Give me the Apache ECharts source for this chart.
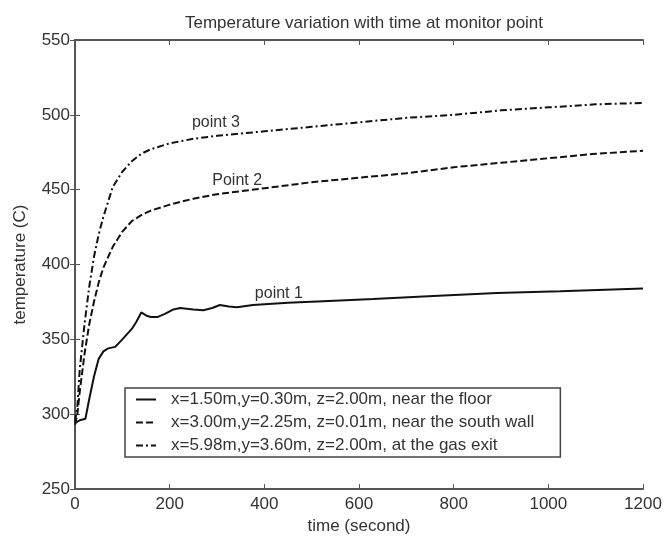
<!DOCTYPE html>
<html>
<head>
<meta charset="utf-8">
<script src="https://cdn.jsdelivr.net/npm/echarts@6/dist/echarts.min.js"></script>
<style>
  html, body { margin: 0; padding: 0; background: #fff; }
  #chart { width: 665px; height: 540px; }
</style>
</head>
<body>
<div id="chart"></div>
<script>
// point 1 - near the floor (solid)
const time1 = [0, 10, 22, 30, 40, 50, 60, 70, 85, 100, 120, 130, 140, 150, 160, 175, 190, 208, 222, 250, 271, 290, 306, 325, 342, 376, 450, 524, 630, 757, 891, 1025, 1200]
const temp1 = [294, 296, 297, 310, 325, 337, 342, 344, 345, 350, 357, 362, 368, 366, 365, 365, 367, 370, 371, 370, 369.5, 371, 373, 372, 371.5, 373, 374.5, 375.5, 377, 379, 381, 382.2, 384]
// point 2 - near the south wall (dashed)
const time2 = [0, 5, 10, 20, 30, 40, 50, 60, 80, 100, 120, 140, 160, 200, 250, 300, 400, 500, 600, 700, 800, 900, 1000, 1100, 1200]
const temp2 = [293, 300, 315, 340, 360, 375, 388, 398, 412, 422, 429, 433, 436, 440, 444, 447, 451, 455, 458, 461, 465, 468, 471, 474, 476]
// point 3 - at the gas exit (dash-dot)
const time3 = [0, 5, 10, 20, 30, 40, 50, 60, 80, 100, 120, 140, 160, 200, 250, 300, 400, 500, 600, 700, 800, 900, 1000, 1100, 1200]
const temp3 = [295, 305, 330, 360, 385, 405, 420, 432, 452, 462, 469, 474, 477, 481, 484, 486, 489, 492, 495, 498, 500, 503, 505, 507, 508]

const legendNames = [
  'x=1.50m,y=0.30m, z=2.00m, near the floor',
  'x=3.00m,y=2.25m, z=0.01m, near the south wall',
  'x=5.98m,y=3.60m, z=2.00m, at the gas exit'
]
const curveLabels = ['point 1', 'Point 2', 'point 3']
const labelCoords = [[380, 380.5], [290, 456], [247, 495]]
const dashTypes = ['solid', [7, 3], [7, 3, 2, 3]]

const font = 'Liberation Sans, Arial, sans-serif'
const textColor = '#333'
const axisColor = '#555'

const zip = (xs, ys) => xs.map((x, i) => [x, ys[i]])
const seriesData = [zip(time1, temp1), zip(time2, temp2), zip(time3, temp3)]

const myChart = echarts.init(document.getElementById('chart'))

const option = {
  animation: false,
  title: {
    text: 'Temperature variation with time at monitor point',
    left: 359,
    textAlign: 'center',
    top: 10,
    textStyle: { fontFamily: font, fontSize: 17, fontWeight: 'normal', color: textColor }
  },
  grid: { left: 75, right: 22, top: 40, bottom: 50 },
  legend: {
    orient: 'vertical',
    left: 125,
    top: 388,
    padding: [3, 26, 3, 10],
    itemWidth: 20,
    itemHeight: 12,
    itemGap: 6,
    backgroundColor: '#fff',
    borderColor: '#444',
    borderWidth: 1.5,
    borderRadius: 0,
    itemStyle: { color: 'rgba(0,0,0,0)', borderWidth: 0 },
    textStyle: { fontFamily: font, fontSize: 17, color: textColor, padding: [0, 0, 0, 10] },
    data: legendNames
  },
  xAxis: [
    {
      type: 'value',
      min: 0,
      max: 1200,
      interval: 200,
      name: 'time (second)',
      nameLocation: 'middle',
      nameGap: 27,
      nameTextStyle: { fontFamily: font, fontSize: 17, color: textColor },
      axisLine: { lineStyle: { color: axisColor, width: 2 } },
      axisTick: { inside: true, length: 5, lineStyle: { color: axisColor } },
      axisLabel: { fontFamily: font, fontSize: 17, color: textColor, margin: 7, formatter: (v) => String(v) },
      splitLine: { show: false }
    },
    {
      type: 'value',
      position: 'top',
      min: 0,
      max: 1200,
      interval: 200,
      axisLine: { lineStyle: { color: axisColor, width: 2 } },
      axisTick: { inside: true, length: 5, lineStyle: { color: axisColor } },
      axisLabel: { show: false },
      splitLine: { show: false }
    }
  ],
  yAxis: [
    {
      type: 'value',
      min: 250,
      max: 550,
      interval: 50,
      name: 'temperature (C)',
      nameLocation: 'middle',
      nameGap: 46,
      nameTextStyle: { fontFamily: font, fontSize: 17, color: textColor },
      axisLine: { show: true, lineStyle: { color: axisColor, width: 2 } },
      axisTick: { show: true, inside: true, length: 5, lineStyle: { color: axisColor } },
      axisLabel: { fontFamily: font, fontSize: 17, color: textColor, margin: 5 },
      splitLine: { show: false }
    },
    {
      type: 'value',
      position: 'right',
      min: 250,
      max: 550,
      interval: 50,
      axisLine: { show: true, lineStyle: { color: axisColor, width: 2 } },
      axisTick: { show: true, inside: true, length: 5, lineStyle: { color: axisColor } },
      axisLabel: { show: false },
      splitLine: { show: false }
    }
  ],
  series: seriesData.map((data, i) => ({
    name: legendNames[i],
    type: 'line',
    data: data,
    symbol: 'none',
    color: '#111',
    lineStyle: { color: '#111', width: 2, type: dashTypes[i] },
    markPoint: {
      symbol: 'circle',
      symbolSize: 0,
      label: {
        show: true,
        position: 'right',
        distance: 0,
        formatter: curveLabels[i],
        fontFamily: font,
        fontSize: 16,
        color: textColor
      },
      data: [{ coord: labelCoords[i] }]
    }
  }))
}

myChart.setOption(option)
</script>
</body>
</html>
